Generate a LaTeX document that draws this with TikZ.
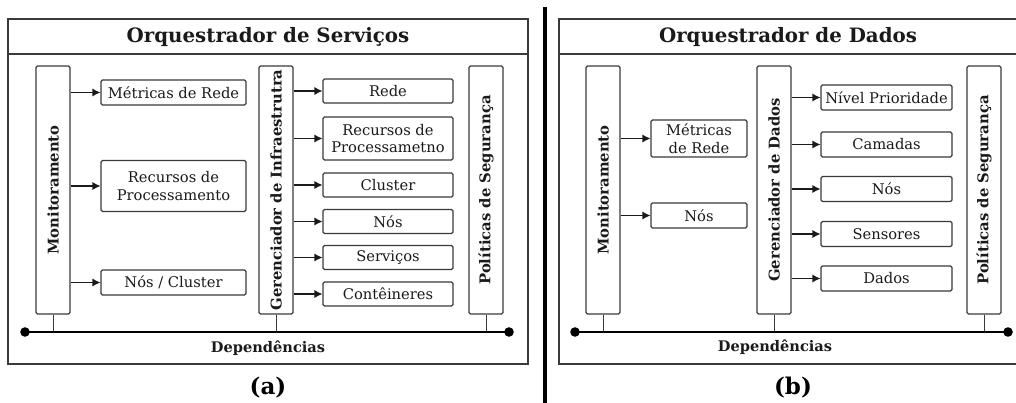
\documentclass[tikz,border=0pt]{standalone}
\usepackage{fontspec}
\setmainfont{DejaVu Serif}
\usepackage{graphicx}
\usetikzlibrary{arrows.meta, positioning}
\definecolor{lineGray}{HTML}{3A3A3A}
\definecolor{textBlack}{HTML}{1A1A1A}

\begin{document}
\begin{tikzpicture}[x=1pt, y=-1pt,
    item/.style={draw=lineGray, line width=1.1pt, rounded corners=1.5pt, fill=white, inner sep=1pt, align=center, text=textBlack, font=\fontsize{14.7}{17.5}\selectfont},
    column/.style={draw=lineGray, line width=1.1pt, rounded corners=1.5pt, minimum width=34pt, minimum height=248pt, inner sep=0pt, text=textBlack, font=\bfseries\fontsize{14.8}{16}\selectfont},
    feed/.style={-{Latex[length=8pt, width=8pt]}, line width=1.1pt, textBlack},
    frame/.style={draw=lineGray, line width=1.2pt},
    bus/.style={line width=2.6pt, black},
    tap/.style={line width=1pt, lineGray},
    title/.style={font=\bfseries\fontsize{19.8}{22}\selectfont, text=textBlack}]
    \useasboundingbox (0,0) rectangle (1016,403);

    % ---------- (a) Orquestrador de Servicos ----------
    \draw[frame] (8,19) rectangle (528,364);
    \draw[frame] (8,54) -- (528,54);
    \node[title] (tA) at (268,37) {Orquestrador de Serviços};

    % Columns
    \node[column] (monA) at (53,190) {\rotatebox{90}{Monitoramento}};
    \node[column] (infA) at (276,190) {\rotatebox{90}{Gerenciador de Infraestrutra}};
    \node[column] (polA) at (486,190) {\rotatebox{90}{Políticas de Segurança}};

    % Monitored items
    \node[item, minimum width=145pt, minimum height=25pt] (metA) at (173.5,92.5) {Métricas de Rede};
    \node[item, minimum width=145pt, minimum height=51pt] (recA) at (173.5,186) {Recursos de\\Processamento};
    \node[item, minimum width=145pt, minimum height=25pt] (ncA) at (173.5,282.5) {Nós / Cluster};

    % Infrastructure items
    \node[item, minimum width=130pt, minimum height=24pt] (redeA) at (388,91) {Rede};
    \node[item, minimum width=130pt, minimum height=43pt] (procA) at (388,138.5) {Recursos de\\Processametno};
    \node[item, minimum width=130pt, minimum height=24pt] (cluA) at (388,185) {Cluster};
    \node[item, minimum width=130pt, minimum height=24pt] (nosA) at (388,221.5) {Nós};
    \node[item, minimum width=130pt, minimum height=24pt] (srvA) at (388,257.5) {Serviços};
    \node[item, minimum width=130pt, minimum height=24pt] (ctrA) at (388,294) {Contêineres};

    % Arrows
    \foreach \n in {metA, recA, ncA}
        \draw[feed] (monA.east |- \n.west) -- (\n.west);
    \foreach \n in {redeA, procA, cluA, nosA, srvA, ctrA}
        \draw[feed] (infA.east |- \n.west) -- (\n.west);

    % Dependency bus
    \coordinate (busAl) at (25,332);
    \coordinate (busAr) at (509,332);
    \foreach \c in {monA, infA, polA}
        \draw[tap] (\c.south) -- (\c.south |- busAl);
    \draw[bus] (busAl) -- (busAr);
    \fill (busAl) circle (4.8pt) (busAr) circle (4.8pt);
    \node[font=\bfseries\fontsize{14.6}{16}\selectfont, text=textBlack] (depA) at (268,348) {Dependências};
    \node[font=\bfseries\fontsize{23}{25}\selectfont] (capA) at (268,388) {(a)};

    % Separator
    \coordinate (sepT) at (545,7);
    \coordinate (sepB) at (545,403);
    \draw[line width=3.4pt] (sepT) -- (sepB);

    % ---------- (b) Orquestrador de Dados ----------
    \draw[frame] (559,19) rectangle (1030,364);
    \draw[frame] (559,54) -- (1030,54);
    \node[title] (tB) at (788,37) {Orquestrador de Dados};

    % Columns
    \node[column] (monB) at (603,190) {\rotatebox{90}{Monitoramento}};
    \node[column] (datB) at (774,190) {\rotatebox{90}{Gerenciador de Dados}};
    \node[column] (polB) at (984,190) {\rotatebox{90}{Políticas de Segurança}};

    % Monitored items
    \node[item, minimum width=96pt, minimum height=37pt] (metB) at (699,138.5) {Métricas\\de Rede};
    \node[item, minimum width=96pt, minimum height=25pt] (nosB1) at (699,215.5) {Nós};

    % Data items
    \node[item, minimum width=131pt, minimum height=25pt] (priB) at (886.5,97.5) {Nível Prioridade};
    \node[item, minimum width=131pt, minimum height=25pt] (camB) at (886.5,144.5) {Camadas};
    \node[item, minimum width=131pt, minimum height=25pt] (nosB2) at (886.5,189) {Nós};
    \node[item, minimum width=131pt, minimum height=25pt] (senB) at (886.5,234) {Sensores};
    \node[item, minimum width=131pt, minimum height=25pt] (dadB) at (886.5,278.5) {Dados};

    % Arrows
    \foreach \n in {metB, nosB1}
        \draw[feed] (monB.east |- \n.west) -- (\n.west);
    \foreach \n in {priB, camB, nosB2, senB, dadB}
        \draw[feed] (datB.east |- \n.west) -- (\n.west);

    % Dependency bus
    \coordinate (busBl) at (575,332);
    \coordinate (busBr) at (1008,332);
    \foreach \c in {monB, datB, polB}
        \draw[tap] (\c.south) -- (\c.south |- busBl);
    \draw[bus] (busBl) -- (busBr);
    \fill (busBl) circle (4.8pt) (busBr) circle (4.8pt);
    \node[font=\bfseries\fontsize{14.6}{16}\selectfont, text=textBlack] (depB) at (775,347) {Dependências};
    \node[font=\bfseries\fontsize{23}{25}\selectfont] (capB) at (793,388) {(b)};
\end{tikzpicture}
\end{document}
